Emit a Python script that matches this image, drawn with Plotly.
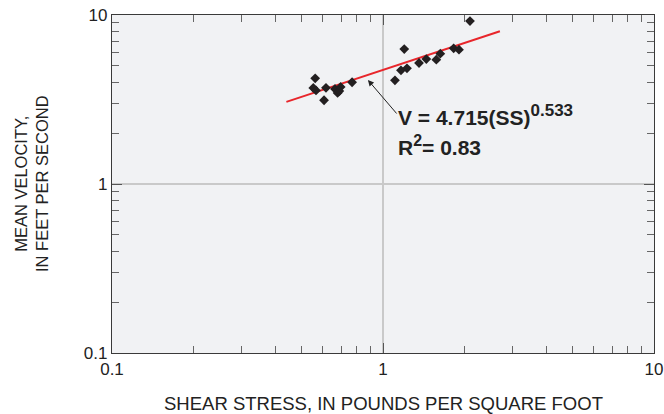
import plotly.graph_objects as go

# Observed data (shear stress, lb/ft^2 ; mean velocity, ft/s)
shear_stress = [0.553, 0.566, 0.562, 0.616, 0.606, 0.665, 0.680, 0.698, 0.690, 0.769,
                1.107, 1.165, 1.226, 1.198, 1.358, 1.445, 1.573, 1.627, 1.823, 1.907, 2.094]
mean_velocity = [3.70, 3.58, 4.22, 3.71, 3.13, 3.65, 3.46, 3.75, 3.55, 4.00,
                 4.11, 4.71, 4.84, 6.29, 5.20, 5.49, 5.44, 5.90, 6.35, 6.23, 9.21]

# Regression line endpoints as drawn
fit_x = [0.44, 2.70]
fit_y = [3.06, 8.01]

major_ticks = [0.1, 1, 10]
major_text = ["0.1", "1", "10"]
minor_ticks = [0.2, 0.3, 0.4, 0.5, 0.6, 0.7, 0.8, 0.9,
               2, 3, 4, 5, 6, 7, 8, 9]

font_family = "Liberation Sans, Arial, Helvetica, sans-serif"
text_color = "#222222"

fig = go.Figure()
fig.add_trace(go.Scatter(x=fit_x, y=fit_y, mode="lines",
                         line=dict(color="#e8262b", width=2), showlegend=False,
                         hoverinfo="skip"))
fig.add_trace(go.Scatter(x=shear_stress, y=mean_velocity, mode="markers",
                         marker=dict(symbol="diamond", size=7.5, color="#231f20"),
                         showlegend=False))

axis_common = dict(
    type="log", range=[-1, 1], automargin=False,
    showline=True, linecolor="#3a3a3a", linewidth=1.2, mirror="ticks",
    ticks="inside", ticklen=10, tickcolor="#555555", tickwidth=1,
    tickvals=major_ticks, ticktext=major_text,
    minor=dict(ticks="inside", ticklen=7, tickcolor="#666666", tickwidth=1,
               showgrid=False, tickvals=minor_ticks),
    showgrid=True, gridcolor="#c9c9c9", gridwidth=1.5,
    zeroline=False,
    tickfont=dict(family=font_family, size=17, color=text_color),
)

fig.update_xaxes(**axis_common)
fig.update_yaxes(**axis_common)

# Axis titles
fig.add_annotation(x=0.5, y=-0.15, xref="paper", yref="paper", xanchor="center",
                   yanchor="middle", showarrow=False,
                   text="SHEAR STRESS, IN POUNDS PER SQUARE FOOT",
                   font=dict(family=font_family, size=18.5, color=text_color))
fig.add_annotation(x=-0.1494, y=0.5, xref="paper", yref="paper", showarrow=False,
                   xanchor="center", yanchor="middle",
                   text="MEAN VELOCITY,<br>IN FEET PER SECOND", textangle=-90,
                   font=dict(family=font_family, size=16.5, color=text_color))

# Regression equation with arrow
fig.add_annotation(x=-0.0557, y=0.6154, xref="x", yref="y",
                   ax=30, ay=35, axref="pixel", ayref="pixel",
                   text="", showarrow=True, arrowhead=2, arrowsize=1.2,
                   arrowwidth=1, arrowcolor=text_color)
fig.add_annotation(x=0.524, y=0.705, xref="paper", yref="paper", xanchor="left",
                   yanchor="middle", showarrow=False,
                   text="<b>V = 4.715(SS)<sup><span style='font-size:17px'>0.533</span></sup></b>",
                   font=dict(family=font_family, size=21, color=text_color))
fig.add_annotation(x=0.524, y=0.615, xref="paper", yref="paper", xanchor="left",
                   yanchor="middle", showarrow=False,
                   text="<b>R<sup><span style='font-size:16px'>2</span></sup>= 0.83</b>",
                   font=dict(family=font_family, size=21, color=text_color))

fig.update_layout(width=664, height=414,
                  margin=dict(l=112, r=10, t=15, b=61),
                  plot_bgcolor="#f1f2f4", paper_bgcolor="white",
                  font=dict(family=font_family))

fig.write_html("out.html", config={"displayModeBar": False},
               post_script="document.body.style.margin='0';document.body.style.overflow='hidden';")
